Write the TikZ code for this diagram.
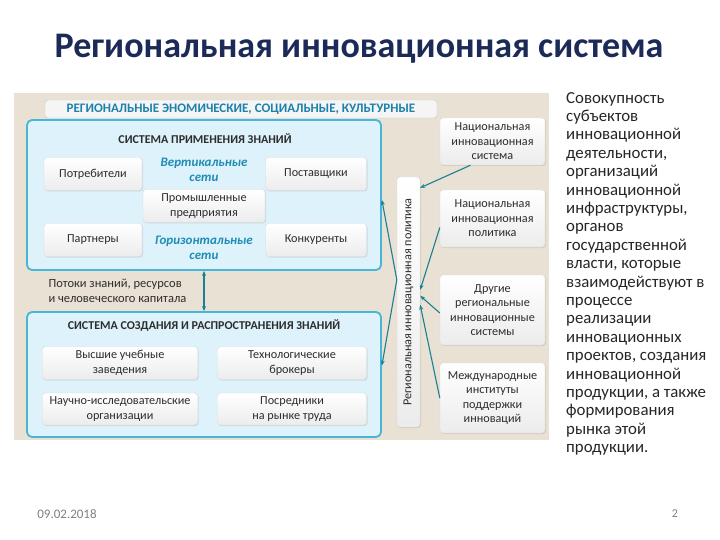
\documentclass[tikz,border=0pt]{standalone}
\usepackage{fontspec}
\setmainfont{Carlito}
\usepackage{tikz}
\usetikzlibrary{arrows.meta,positioning,shadows}
\definecolor{titleblue}{RGB}{28,42,88}
\definecolor{sandbg}{RGB}{233,225,211}
\definecolor{panelfill}{RGB}{221,242,250}
\definecolor{panelline}{RGB}{72,182,214}
\definecolor{tabtext}{RGB}{28,130,172}
\definecolor{nettext}{RGB}{30,140,180}
\definecolor{linkteal}{RGB}{24,128,150}
\definecolor{boxtext}{RGB}{45,45,45}
\tikzset{
  panel/.style={rectangle,rounded corners=5pt,draw=panelline,line width=1.8pt,fill=panelfill},
  tabbox/.style={rectangle,rounded corners=3pt,draw=gray!45,fill=gray!8,text=tabtext,font=\fontsize{13}{15}\selectfont\bfseries,inner sep=0pt},
  item/.style={rectangle,rounded corners=3pt,draw=gray!30,top color=white,bottom color=gray!15,drop shadow={opacity=0.2,shadow xshift=1pt,shadow yshift=-1pt},text=boxtext,align=center,inner sep=1pt,font=\fontsize{12.2}{14.5}\selectfont},
  sidebox/.style={item,minimum width=105pt},
  nettag/.style={font=\fontsize{13}{15.5}\selectfont\bfseries\itshape,text=nettext,align=center},
  heading/.style={font=\fontsize{12}{14}\selectfont\bfseries,text=boxtext},
  link/.style={-{Stealth[length=5pt,width=4pt]},draw=linkteal,line width=1.1pt},
}

\begin{document}
\begin{tikzpicture}[x=1pt,y=-1pt]
  \useasboundingbox (0,0) rectangle (720,540);
  \fill[white] (0,0) rectangle (720,540);
  \node[font=\fontsize{36}{42}\selectfont\bfseries,text=titleblue,anchor=base] (title) at (359,58) {Региональная инновационная система};

  % background of the scheme
  \fill[sandbg] (14,93) rectangle (549,440);
  \node[tabbox,minimum width=392pt,minimum height=18pt] (tab) at (241,109) {РЕГИОНАЛЬНЫЕ ЭНОМИЧЕСКИЕ, СОЦИАЛЬНЫЕ, КУЛЬТУРНЫЕ};

  % knowledge application
  \node[panel,minimum width=354pt,minimum height=150pt] (app) at (204,195) {};
  \node[heading] (apphead) at (205,139) {СИСТЕМА ПРИМЕНЕНИЯ ЗНАНИЙ};
  \node[item,minimum width=98pt,minimum height=33pt] (cons) at (93,174) {Потребители};
  \node[item,minimum width=101pt,minimum height=33pt] (supp) at (316,174) {Поставщики};
  \node[item,minimum width=122pt,minimum height=33pt] (ind) at (204,206) {Промышленные\\предприятия};
  \node[item,minimum width=98pt,minimum height=33pt] (part) at (93,240) {Партнеры};
  \node[item,minimum width=101pt,minimum height=33pt] (comp) at (316,240) {Конкуренты};
  \node[nettag] (vert) at (204,170) {Вертикальные\\сети};
  \node[nettag] (horz) at (204,248) {Горизонтальные\\сети};

  \node[anchor=west,align=left,font=\fontsize{12.5}{14.5}\selectfont,text=boxtext] (flows) at (45,291) {Потоки знаний, ресурсов\\и человеческого капитала};

  % knowledge creation
  \node[panel,minimum width=354pt,minimum height=125pt] (cre) at (204,374.5) {};
  \node[heading] (crehead) at (204,326) {СИСТЕМА СОЗДАНИЯ И РАСПРОСТРАНЕНИЯ ЗНАНИЙ};
  \node[item,minimum width=155pt,minimum height=33pt] (univ) at (120,363) {Высшие учебные\\заведения};
  \node[item,minimum width=149pt,minimum height=33pt] (brok) at (292,363) {Технологические\\брокеры};
  \node[item,minimum width=155pt,minimum height=32pt] (rnd) at (120,409) {Научно-исследовательские\\организации};
  \node[item,minimum width=149pt,minimum height=32pt] (labr) at (292,409) {Посредники\\на рынке труда};

  \draw[link,{Stealth[length=5pt,width=4pt]}-{Stealth[length=5pt,width=4pt]}] (app.south) -- (cre.north);

  % policy bar and outer actors
  \node[item,inner sep=0pt,minimum width=23pt,minimum height=250pt] (bar) at (408.5,302) {\rotatebox{90}{Региональная инновационная политика}};
  \node[sidebox,minimum height=47pt] (nis) at (492.5,141.5) {Национальная\\инновационная\\система};
  \node[sidebox,minimum height=57pt] (nip) at (492.5,218.5) {Национальная\\инновационная\\политика};
  \node[sidebox,minimum height=70pt] (oth) at (492.5,310) {Другие\\региональные\\инновационные\\системы};
  \node[sidebox,minimum height=70pt] (intl) at (492.5,398) {Международные\\институты\\поддержки\\инноваций};

  \draw[link] ([xshift=-22pt]nis.south) -- ([yshift=-11pt]bar.north east);
  \draw[link] ([yshift=-9pt]nip.west) -- ([yshift=-113pt]bar.north east);
  \draw[link] ([yshift=-3pt]oth.west) -- ([yshift=-119pt]bar.north east);
  \draw[link] (intl.west) -- ([yshift=-128pt]bar.north east);
  \draw[link] ([yshift=-103pt]bar.north west) -- ([yshift=-5pt]app.east);
  \draw[link] ([yshift=-103pt]bar.north west) -- ([yshift=9pt]cre.east);

  \node[anchor=north west,inner sep=0pt,align=left,font=\fontsize{16.8}{18.4}\selectfont,text=black!85] (defn) at (566,92) {Совокупность\\субъектов\\инновационной\\деятельности,\\организаций\\инновационной\\инфраструктуры,\\органов\\государственной\\власти, которые\\взаимодействуют в\\процессе\\реализации\\инновационных\\проектов, создания\\инновационной\\продукции, а также\\формирования\\рынка этой\\продукции.};

  \node[font=\fontsize{13}{15}\selectfont,text=gray] (date) at (67,514) {09.02.2018};
  \node[font=\fontsize{12}{14}\selectfont,text=gray] (page) at (675,514) {2};
\end{tikzpicture}
\end{document}
